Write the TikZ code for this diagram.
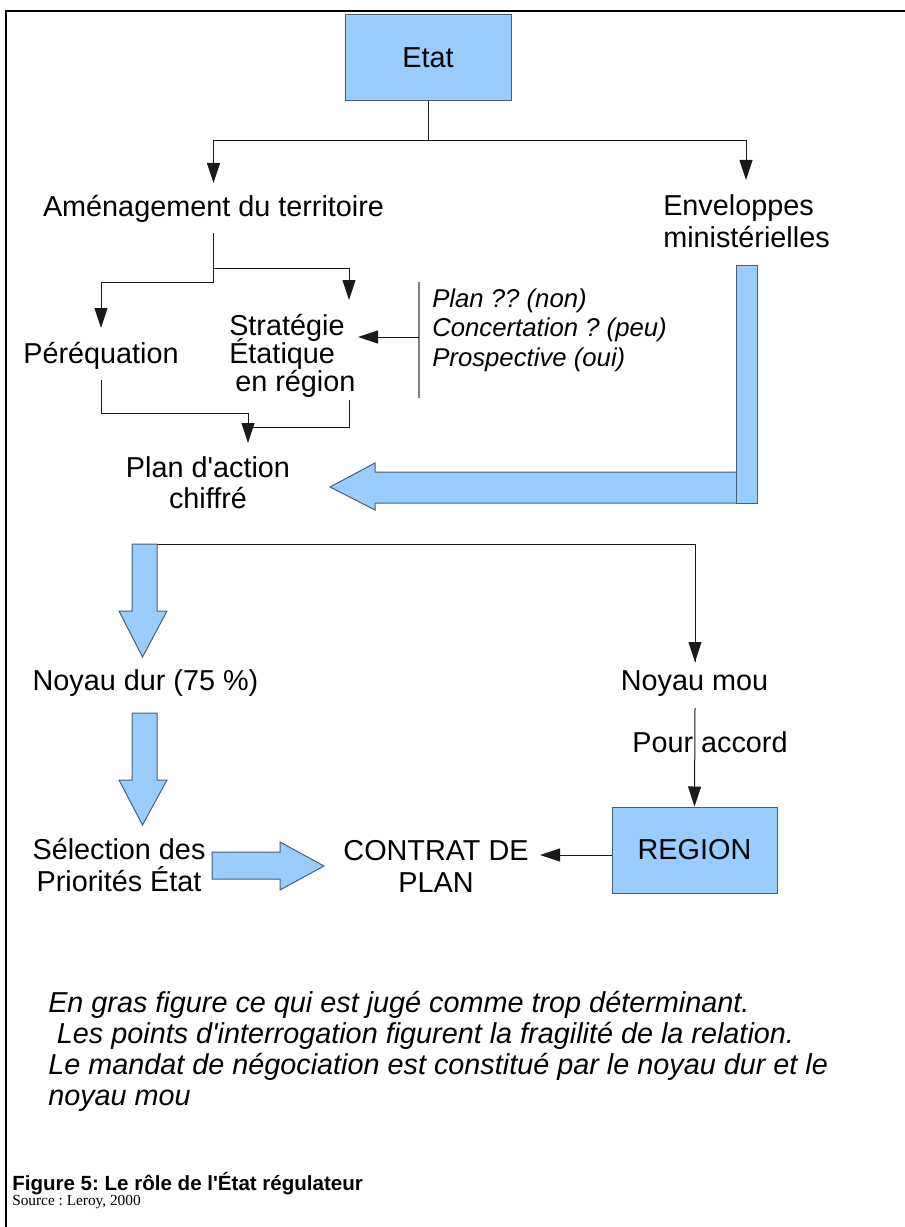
\documentclass[tikz,border=0pt]{standalone}
\usepackage{fontspec}
\setmainfont{Liberation Sans}
\newfontfamily\srcfont{Liberation Serif}
\usetikzlibrary{arrows.meta}
\definecolor{bfill}{HTML}{99CCFF}
\definecolor{bline}{HTML}{4A5F75}
\definecolor{cline}{HTML}{1A1A1A}
\definecolor{sepline}{HTML}{808080}
\newcommand\fm{\fontsize{21.6pt}{24pt}\selectfont}
\newcommand\stratfont{\fontsize{21.6pt}{21pt}\selectfont\lineskiplimit=-30pt\relax\lineskip=0pt\relax}
\frenchspacing
\begin{document}
\frenchspacing
\begin{tikzpicture}[x=0.75pt,y=-0.75pt,
  lab/.style={inner sep=0pt, font=\fm, anchor=base},
  box/.style={draw=bline, fill=bfill, line width=0.75pt, inner sep=0pt, font=\fm},
  conn/.style={draw=cline, line width=0.75pt},
  arr/.style={conn, -{Triangle[length=15pt,width=9.75pt]}},
  blk/.style={draw=bline, fill=bfill, line width=0.75pt, line join=miter},
  sepst/.style={draw=sepline, line width=1pt}]
\useasboundingbox (0,0) rectangle (905,1227);
% frame
\draw[line width=1pt] (6,1227) -- (6,11) -- (905,11);

% nodes (multi-line nodes are placed by the baseline of their last line)
\node[box, minimum width=124.5pt, minimum height=64.5pt] (etat) at (428,58) {Etat};
\node[lab] (amen) at (213.5,216) {Aménagement du territoire};
\node[lab, anchor=base west, align=left] (env) at (663,247) {Enveloppes\\ministérielles};
\node[lab] (pereq) at (101,363) {Péréquation};
\node[lab, anchor=base west, align=left, font=\stratfont] (strat) at (229,391) {Stratégie\\Étatique\\\hspace*{4.5pt}en région};
\node[lab, anchor=base west, align=left, font=\itshape\fontsize{19.3pt}{22pt}\selectfont] (side) at (432,366) {Plan ?? (non)\\Concertation ? (peu)\\Prospective (oui)};
\node[lab, align=center, font=\fontsize{21.6pt}{23.25pt}\selectfont] (plan) at (208,508) {Plan d\textquotesingle action\\chiffré};
\node[lab] (ndur) at (145.5,690) {Noyau dur (75 \%)};
\node[lab] (nmou) at (694.5,690) {Noyau mou};
\node[lab] (pour) at (710,752) {Pour accord};
\node[lab, align=center] (sel) at (119,891) {Sélection des\\Priorités État};
\node[lab, align=center] (contrat) at (436,892) {CONTRAT DE\\PLAN};
\node[box, minimum width=123.75pt, minimum height=64.5pt] (region) at (694.5,850) {REGION};
\node[lab, anchor=base west, align=left, font=\itshape\fontsize{21.6pt}{23.25pt}\selectfont] (note) at (48,1105)
 {En gras figure ce qui est jugé comme trop déterminant.\\\hspace*{6.5pt}Les points d\textquotesingle interrogation figurent la fragilité de la relation.\\Le mandat de négociation est constitué par le noyau dur et le\\noyau mou};
\node[lab, anchor=base west, font=\bfseries\fontsize{15.4pt}{18pt}\selectfont] (fig) at (12,1190) {Figure 5: Le rôle de l\textquotesingle État régulateur};
\node[lab, anchor=base west, font=\srcfont\fontsize{11.5pt}{13pt}\selectfont] (src) at (12,1205) {Source : Leroy, 2000};

% coordinates
\coordinate (j1) at (428,141);
\coordinate (tAmen) at (213.5,183);
\coordinate (tEnv) at (746,180);
\coordinate (sAmen) at (213.5,233);
\coordinate (j2) at (213.5,268);
\coordinate (j3) at (213.5,282);
\coordinate (tStrat) at (349,300);
\coordinate (tPer) at (101,328);
\coordinate (sepT) at (419,282);
\coordinate (sepB) at (419,398);
\coordinate (sSide) at (419,337);
\coordinate (tSide) at (358,337);
\coordinate (sPer) at (101,380);
\coordinate (j4) at (248,413);
\coordinate (tPlan) at (248,443);
\coordinate (sStrat) at (349,400);
\coordinate (j5) at (248,427);
\coordinate (j6) at (132,544);
\coordinate (tMou) at (695,662);
\coordinate (sMou) at (695,708);
\coordinate (sReg) at (612,855);
\coordinate (tCon) at (540,855);

% connectors
\draw[conn] (etat.south) -- (j1);
\draw[arr] (j1) -| (tAmen);
\draw[arr] (j1) -| (tEnv);
\draw[conn] (sAmen) -- (j3);
\draw[arr] (j2) -| (tStrat);
\draw[arr] (j3) -| (tPer);
\draw[sepst] (sepT) -- (sepB);
\draw[arr] (sSide) -- (tSide);
\draw[arr] (sPer) |- (j4) -- (tPlan);
\draw[conn] (sStrat) |- (j5);
\draw[conn] (j6) -| (tMou);
\draw[arr] (j6 -| tMou) -- (tMou);
\draw[arr] (sMou) -- (region.north);
\draw[arr] (sReg) -- (tCon);

% block arrows
\path[blk] (736,472) -- (375,472) -- (375,463) -- (330,487) -- (375,510) -- (375,503) -- (736,503);
\path[blk] (736,265) rectangle (757,503);
\path[blk] (132,544) -- (157,544) -- (157,611) -- (167,611) -- (142.5,657) -- (119,611) -- (132,611) -- cycle;
\path[blk] (132,713) -- (157,713) -- (157,780) -- (167,780) -- (142.5,825) -- (119,780) -- (132,780) -- cycle;
\path[blk] (212,852) -- (280,852) -- (280,842) -- (324,866) -- (280,890) -- (280,879) -- (212,879) -- cycle;
\end{tikzpicture}
\end{document}
